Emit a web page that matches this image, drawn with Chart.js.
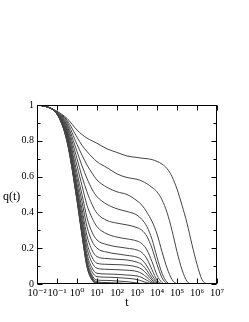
<!DOCTYPE html>
<html><head><meta charset="utf-8">
<script src="https://cdn.jsdelivr.net/npm/chart.js@4"></script>
<style>html,body{margin:0;padding:0;background:#fff}</style>
</head><body>
<canvas id="c" width="249" height="322"></canvas>
<script>
// time grid (shared by all curves)
const times = [1e-2, 3.162e-2, 1e-1, 3.162e-1, 1, 1.778, 3.162, 5.623, 10, 31.62, 100, 316.2, 1e3, 1778, 3162, 5623, 1e4, 17783, 31623, 56234, 1e5, 177828, 316228, 562341, 1e6, 1778279, 3162278, 1e7];

const q1  = [1.0, 0.99, 0.965, 0.925, 0.86, 0.835, 0.815, 0.80, 0.786, 0.755, 0.735, 0.715, 0.707, 0.703, 0.70, 0.695, 0.685, 0.67, 0.645, 0.60, 0.53, 0.44, 0.34, 0.22, 0.11, 0.025, 0.002, 0];
const q2  = [1.0, 0.99, 0.963, 0.915, 0.82, 0.775, 0.74, 0.71, 0.683, 0.65, 0.615, 0.595, 0.585, 0.575, 0.56, 0.54, 0.515, 0.47, 0.40, 0.30, 0.18, 0.08, 0.015, 0, 0, 0, 0, 0];
const q3  = [1.0, 0.99, 0.96, 0.905, 0.78, 0.72, 0.665, 0.62, 0.581, 0.54, 0.515, 0.50, 0.465, 0.44, 0.40, 0.35, 0.28, 0.18, 0.09, 0.025, 0.002, 0, 0, 0, 0, 0, 0, 0];
const q4  = [1.0, 0.99, 0.958, 0.895, 0.74, 0.66, 0.59, 0.53, 0.488, 0.445, 0.42, 0.405, 0.385, 0.36, 0.32, 0.25, 0.15, 0.06, 0.01, 0, 0, 0, 0, 0, 0, 0, 0, 0];
const q5  = [1.0, 0.99, 0.956, 0.885, 0.70, 0.60, 0.515, 0.445, 0.395, 0.355, 0.34, 0.33, 0.315, 0.30, 0.265, 0.20, 0.11, 0.035, 0.003, 0, 0, 0, 0, 0, 0, 0, 0, 0];
const q6  = [1.0, 0.99, 0.955, 0.875, 0.66, 0.55, 0.44, 0.37, 0.32, 0.28, 0.262, 0.252, 0.24, 0.225, 0.19, 0.125, 0.05, 0.008, 0, 0, 0, 0, 0, 0, 0, 0, 0, 0];
const q7  = [1.0, 0.99, 0.954, 0.865, 0.62, 0.50, 0.37, 0.29, 0.246, 0.22, 0.208, 0.20, 0.19, 0.175, 0.14, 0.08, 0.022, 0.002, 0, 0, 0, 0, 0, 0, 0, 0, 0, 0];
const q8  = [1.0, 0.99, 0.953, 0.855, 0.59, 0.46, 0.32, 0.24, 0.20, 0.178, 0.168, 0.16, 0.15, 0.135, 0.10, 0.05, 0.012, 0, 0, 0, 0, 0, 0, 0, 0, 0, 0, 0];
const q9  = [1.0, 0.99, 0.952, 0.845, 0.56, 0.42, 0.27, 0.19, 0.153, 0.142, 0.138, 0.134, 0.122, 0.108, 0.075, 0.033, 0.006, 0, 0, 0, 0, 0, 0, 0, 0, 0, 0, 0];
const q10 = [1.0, 0.99, 0.951, 0.835, 0.54, 0.39, 0.23, 0.15, 0.116, 0.11, 0.108, 0.105, 0.095, 0.082, 0.055, 0.022, 0.003, 0, 0, 0, 0, 0, 0, 0, 0, 0, 0, 0];
const q11 = [1.0, 0.99, 0.95, 0.83, 0.52, 0.36, 0.20, 0.12, 0.088, 0.082, 0.08, 0.077, 0.07, 0.058, 0.037, 0.012, 0.001, 0, 0, 0, 0, 0, 0, 0, 0, 0, 0, 0];
const q12 = [1.0, 0.99, 0.95, 0.825, 0.51, 0.34, 0.17, 0.09, 0.06, 0.056, 0.054, 0.05, 0.045, 0.036, 0.02, 0.005, 0, 0, 0, 0, 0, 0, 0, 0, 0, 0, 0, 0];
const q13 = [1.0, 0.99, 0.95, 0.82, 0.50, 0.32, 0.15, 0.07, 0.041, 0.038, 0.036, 0.032, 0.025, 0.016, 0.007, 0.001, 0, 0, 0, 0, 0, 0, 0, 0, 0, 0, 0, 0];
const q14 = [1.0, 0.99, 0.95, 0.815, 0.49, 0.30, 0.13, 0.05, 0.022, 0.02, 0.017, 0.013, 0.006, 0.002, 0, 0, 0, 0, 0, 0, 0, 0, 0, 0, 0, 0, 0, 0];
const q15 = [1.0, 0.99, 0.95, 0.81, 0.485, 0.29, 0.12, 0.04, 0.012, 0.008, 0.006, 0.003, 0, 0, 0, 0, 0, 0, 0, 0, 0, 0, 0, 0, 0, 0, 0, 0];
const q16 = [1.0, 0.99, 0.95, 0.805, 0.48, 0.285, 0.11, 0.035, 0.008, 0.004, 0.002, 0, 0, 0, 0, 0, 0, 0, 0, 0, 0, 0, 0, 0, 0, 0, 0, 0];
const q17 = [1.0, 0.99, 0.95, 0.80, 0.475, 0.28, 0.105, 0.03, 0.005, 0.002, 0, 0, 0, 0, 0, 0, 0, 0, 0, 0, 0, 0, 0, 0, 0, 0, 0, 0];
const q18 = [1.0, 0.99, 0.95, 0.80, 0.47, 0.275, 0.10, 0.025, 0.003, 0, 0, 0, 0, 0, 0, 0, 0, 0, 0, 0, 0, 0, 0, 0, 0, 0, 0, 0];
const q19 = [1.0, 0.99, 0.95, 0.795, 0.465, 0.27, 0.095, 0.022, 0.002, 0, 0, 0, 0, 0, 0, 0, 0, 0, 0, 0, 0, 0, 0, 0, 0, 0, 0, 0];

const curves = [q1, q2, q3, q4, q5, q6, q7, q8, q9, q10, q11, q12, q13, q14, q15, q16, q17, q18, q19];

const xTickValues = [1e-2, 1e-1, 1, 1e1, 1e2, 1e3, 1e4, 1e5, 1e6, 1e7];
const xTickLabels = ['10\u207B\u00B2', '10\u207B\u00B9', '10\u2070', '10\u00B9', '10\u00B2', '10\u00B3', '10\u2074', '10\u2075', '10\u2076', '10\u2077'];
const yTickValues = [0, 0.1, 0.2, 0.3, 0.4, 0.5, 0.6, 0.7, 0.8, 0.9, 1];
const yTickLabels = ['0', '', '0.2', '', '0.4', '', '0.6', '', '0.8', '', '1'];
const xTitle = 't';
const yTitle = 'q(t)';

Chart.defaults.font.family = '"Liberation Serif", "DejaVu Serif", serif';
Chart.defaults.font.size = 10;
Chart.defaults.color = '#000';

const framePlugin = {
  id: 'frame',
  afterDraw(chart) {
    const {ctx, chartArea: a, scales: {x, y}} = chart;
    ctx.save();
    ctx.strokeStyle = '#000';
    ctx.lineWidth = 1;
    const L = Math.round(a.left) + 0.5, R = Math.round(a.right) - 0.5;
    const T = Math.round(a.top) + 0.5, B = Math.round(a.bottom) - 0.5;
    ctx.strokeRect(L, T, R - L, B - T);
    ctx.beginPath();
    xTickValues.forEach(v => {
      const px = Math.round(x.getPixelForValue(v)) + 0.5;
      ctx.moveTo(px, B); ctx.lineTo(px, B - 5);
      ctx.moveTo(px, T); ctx.lineTo(px, T + 5);
    });
    yTickValues.forEach((v, i) => {
      const py = Math.round(y.getPixelForValue(v)) + 0.5;
      const len = i % 2 === 0 ? 5 : 3;
      ctx.moveTo(L, py); ctx.lineTo(L + len, py);
      ctx.moveTo(R, py); ctx.lineTo(R - len, py);
    });
    ctx.stroke();
    ctx.fillStyle = '#000';
    ctx.font = '12px "Liberation Serif", serif';
    ctx.textBaseline = 'middle';
    ctx.textAlign = 'left';
    ctx.fillText(yTitle, 3, (a.top + a.bottom) / 2 + 2);
    ctx.restore();
  }
};

new Chart(document.getElementById('c'), {
  type: 'line',
  data: {
    datasets: curves.map((c, k) => ({
      label: 'curve ' + (k + 1),
      data: times.map((t, i) => ({x: t, y: c[i]})),
      borderColor: '#444',
      borderWidth: 1,
      pointRadius: 0,
      fill: false,
      cubicInterpolationMode: 'monotone'
    }))
  },
  options: {
    responsive: false,
    animation: false,
    devicePixelRatio: 1,
    layout: {padding: {top: 105, right: 32, left: 0, bottom: 0}},
    plugins: {legend: {display: false}, tooltip: {enabled: false}},
    scales: {
      x: {
        type: 'logarithmic',
        min: 1e-2, max: 1e7,
        afterBuildTicks: s => { s.ticks = xTickValues.map(v => ({value: v})); },
        afterFit: s => { s.height = 38; },
        grid: {display: false, drawTicks: false},
        border: {display: false},
        ticks: {autoSkip: false, maxRotation: 0, padding: 3, callback: (v, i) => xTickLabels[i], font: {size: 10.5}},
        title: {display: true, text: xTitle, font: {size: 12}, padding: {top: 0, bottom: 12}}
      },
      y: {
        type: 'linear',
        min: 0, max: 1,
        afterBuildTicks: s => { s.ticks = yTickValues.map(v => ({value: v})); },
        afterFit: s => { s.width = 37; },
        grid: {display: false, drawTicks: false},
        border: {display: false},
        ticks: {autoSkip: false, padding: 3, callback: (v, i) => yTickLabels[i], font: {size: 10}}
      }
    }
  },
  plugins: [framePlugin]
});
</script>
</body></html>
